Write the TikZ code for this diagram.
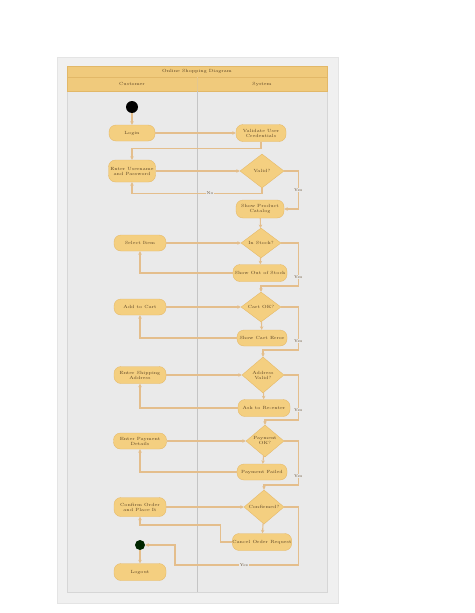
\documentclass[tikz,border=0pt]{standalone}
\usepackage{tikz}
\usetikzlibrary{arrows.meta, shapes.geometric}
\definecolor{panelgray}{HTML}{F0F0F0}
\definecolor{lanegray}{HTML}{EAEAEA}
\definecolor{laneedge}{HTML}{D6D6D6}
\definecolor{lanebar}{HTML}{F0CA7C}
\definecolor{baredge}{HTML}{E2B868}
\definecolor{actfill}{HTML}{F4CF80}
\definecolor{actline}{HTML}{E6BA6A}
\definecolor{flowline}{HTML}{E4BE8C}
\definecolor{inktext}{HTML}{5C4424}
\tikzset{act/.style = {draw = actline, fill = actfill, rounded corners = 7pt, minimum width = 50pt, minimum height = 17pt, inner sep = 0pt, align = center, text = inktext, font = \fontsize{4.5}{5}\selectfont}}
\tikzset{decide/.style = {draw = actline, fill = actfill, diamond, inner sep = 0pt, align = center, text = inktext, font = \fontsize{4.5}{5}\selectfont}}
\tikzset{flow/.style = {draw = flowline, line width = 1.1pt, -{Stealth[length = 3.5pt, width = 3.5pt]}}}
\tikzset{guard/.style = {fill = lanegray, inner sep = 0.6pt, text = inktext, font = \fontsize{4}{4.5}\selectfont}}
\tikzset{lanetext/.style = {text = inktext, font = \fontsize{4.5}{5}\selectfont}}

\begin{document}
\begin{tikzpicture}[x = 1pt, y = -1pt]
\useasboundingbox (0,0) rectangle (474,613);
% panel and swimlanes
\filldraw [fill = panelgray, draw = panelgray!95!black] (57,57) rectangle (338,603);
\filldraw [fill = lanegray, draw = laneedge] (67,66) rectangle (327,592);
\filldraw [fill = lanebar, draw = baredge] (67,66) rectangle (327,77);
\filldraw [fill = lanebar, draw = baredge] (67,77) rectangle (327,91);
\draw [baredge!70!lanegray] (197,77) -- (197,91);
\draw [laneedge!80!gray] (197,91) -- (197,592);
\node [lanetext] (title) at (197,71.5) {Online Shopping Diagram};
\node [lanetext] (buyer) at (132,84) {Customer};
\node [lanetext] (system) at (262,84) {System};

% nodes
\node [circle, fill = black, minimum size = 12pt, inner sep = 0pt] (start) at (132,107) {};
\node [act, minimum width = 46pt, minimum height = 16pt] (L1) at (132,133) {Login};
\node [act] (R1) at (261,133) {Validate User\\Credentials};
\node [act, minimum width = 47pt, minimum height = 22pt] (L2) at (132,171) {Enter Username\\and Password};
\node [decide, minimum width = 44pt, minimum height = 34pt] (D1) at (262,171) {Valid?};
\node [act, minimum width = 48pt, minimum height = 18pt] (R2) at (260,209) {Show Product\\Catalog};
\node [act, minimum width = 52pt, minimum height = 16pt] (L3) at (140,243) {Select Item};
\node [decide, minimum width = 40pt, minimum height = 30pt] (D2) at (261,243) {In Stock?};
\node [act, minimum width = 54pt] (R3) at (260,273) {Show Out of Stock};
\node [act, minimum width = 52pt, minimum height = 16pt] (L4) at (140,307) {Add to Cart};
\node [decide, minimum width = 40pt, minimum height = 30pt] (D3) at (261,307) {Cart OK?};
\node [act, minimum height = 16pt] (R4) at (262,338) {Show Cart Error};
\node [act, minimum width = 52pt] (L5) at (140,375) {Enter Shipping\\Address};
\node [decide, minimum width = 42pt, minimum height = 36pt] (D4) at (263,375) {Address\\Valid?};
\node [act, minimum width = 52pt] (R5) at (264,408) {Ask to Re-enter};
\node [act, minimum width = 53pt, minimum height = 16pt] (L6) at (140,441) {Enter Payment\\Details};
\node [decide, minimum width = 38pt, minimum height = 32pt] (D5) at (265,441) {Payment\\OK?};
\node [act, minimum height = 16pt] (R6) at (262,472) {Payment Failed};
\node [act, minimum width = 52pt, minimum height = 19pt] (L7) at (140,507) {Confirm Order\\and Place It};
\node [decide, minimum width = 40pt, minimum height = 28pt] (D6) at (264,507) {Confirmed?};
\node [act, minimum width = 52pt] (R7) at (262,542) {Cancel Order Request};
\node [circle, fill = black!85!green, minimum size = 10pt, inner sep = 0pt] (merge) at (140,545) {};
\node [act, minimum width = 52pt] (L8) at (140,572) {Logout};

% flows
\draw [flow] (start) -- (L1);
\draw [flow] (L1) -- (R1);
\draw [flow] (R1.south) -- ++(0,6.5) -| (L2.north);
\draw [flow] (L2) -- (D1);
\draw [flow] (D1.east) -- ++(14,0) |- node [guard, pos = 0.25] {Yes} (R2.east);
\draw [flow] (D1.south) -- ++(0,5) -| node [guard, pos = 0.2] {No} (L2.south);
\draw [flow] (R2) -- (D2);
\draw [flow] (L3) -- (D2);
\draw [flow] (D2) -- (R3);
\draw [flow] (R3.west) -| (L3.south);
\draw [flow] (D2.east) -- ++(17,0) -- ++(0,43) node [guard, pos = 0.8] {Yes} -| (D3.north);
\draw [flow] (L4) -- (D3);
\draw [flow] (D3) -- (R4);
\draw [flow] (R4.west) -| (L4.south);
\draw [flow] (D3.east) -- ++(17,0) -- ++(0,43) node [guard, pos = 0.8] {Yes} -| (D4.north);
\draw [flow] (L5) -- (D4);
\draw [flow] (D4) -- (R5);
\draw [flow] (R5.west) -| (L5.south);
\draw [flow] (D4.east) -- ++(14,0) -- ++(0,45) node [guard, pos = 0.78] {Yes} -| (D5.north);
\draw [flow] (L6) -- (D5);
\draw [flow] (D5) -- (R6);
\draw [flow] (R6.west) -| (L6.south);
\draw [flow] (D5.east) -- ++(14,0) -- ++(0,44) node [guard, pos = 0.8] {Yes} -| (D6.north);
\draw [flow] (L7) -- (D6);
\draw [flow] (D6) -- (R7);
\draw [flow] (R7.west) -- ++(-12,0) -- ++(0,-17) -| (L7.south);
\draw [flow] (D6.east) -- ++(14,0) |- node [guard, pos = 0.72] {Yes} (175,565) |- (merge.east);
\draw [flow] (merge) -- (L8);
\end{tikzpicture}
\end{document}
